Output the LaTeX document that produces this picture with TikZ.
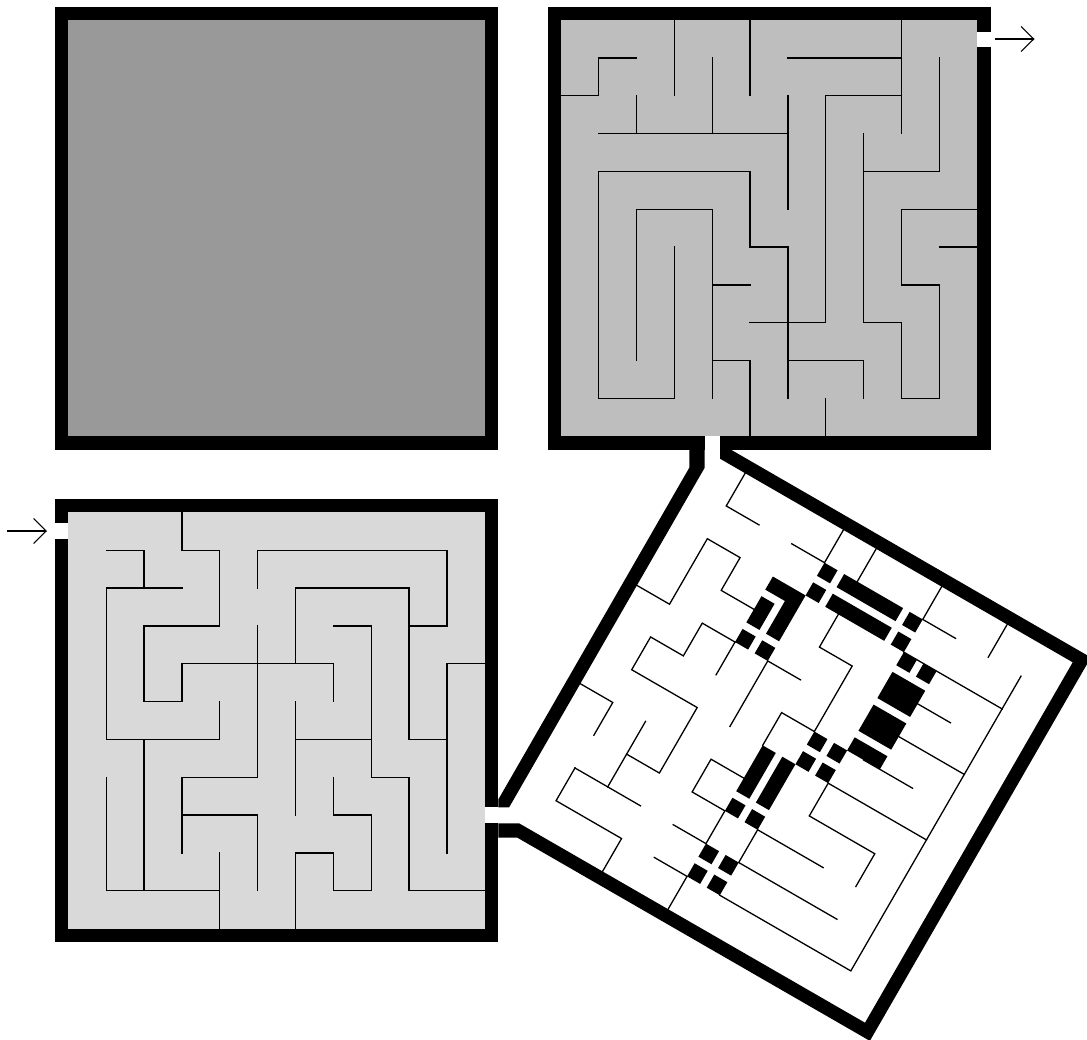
\documentclass[tikz,border=0pt]{standalone}
\usetikzlibrary{arrows.meta}
\definecolor{shadeA}{gray}{0.6}
\definecolor{shadeB}{gray}{0.745}
\definecolor{shadeC}{gray}{0.85}
\tikzset{
  wall/.style={line width=1.3pt,line cap=rect,line join=miter,black},
  tipline/.style={line width=1.1pt,-{Straight Barb[length=12.6pt,width=25pt,line width=1.1pt]}},
  sqcell/.style={x=37.87pt,y=-37.85pt},
  rotcell/.style={x={(32.75pt,-18.91pt)},y={(-18.91pt,-32.75pt)},shift={(712.4pt,-454.3pt)}}
}
\newcommand{\blk}[4]{\fill[black] (#1,#3)--(#2,#3)--(#2,#4)--(#1,#4)--cycle;}
\begin{document}
\begin{tikzpicture}[x=1pt,y=-1pt]
\useasboundingbox (0,0) rectangle (1087,1039);
\clip (0,0) rectangle (1087,1039);
\fill[white] (0,0) rectangle (1087,1039);
% top-left square
\fill[black] (55,6.7) rectangle (498.3,449.7);
\fill[shadeA] (68.3,20) rectangle (485,436.3);
% top-right square
\fill[black] (548,6.7) rectangle (990.7,449.7);
\fill[shadeB] (560.7,20) rectangle (977.3,436.3);
% bottom-left square
\fill[black] (55,499) rectangle (498.3,942);
\fill[shadeC] (68.3,512.3) rectangle (485,928.7);
% tilted square frame
\fill[black] (689.3,449)--(704.5,449)--(704.5,468)--(509.15,807.3)--(498.3,807.3)--(498.3,799.5)--(689.3,467.7)--cycle;
\fill[black] (720,449.7)--(720,458.7)--(1072.7,662.3)--(865,1022.7)--(519.1,823.3)--(498.3,823.3)--(498.3,837.7)--(517.4,837.7)--(869.87,1040.87)--(1090.87,657.43)--(731.5,450)--(731.5,449.7)--cycle;
% openings
\fill[white] (977.3,31.7) rectangle (990.7,46.7);
\fill[white] (705,436.3) rectangle (720,450);
\fill[white] (55,523) rectangle (68.3,538.7);
\fill[white] (485,807.3) rectangle (498.3,823.3);
% arrows
\coordinate (inA) at (7,531);
\coordinate (inB) at (47,531);
\coordinate (outA) at (995,39);
\coordinate (outB) at (1034.5,39);
\draw[tipline] (inA) -- (inB);
\draw[tipline] (outA) -- (outB);
% top-right walls
\begin{scope}[sqcell,shift={(560.7pt,-20pt)}]
\draw[wall] (0,2)--(1,2)--(1,1)--(2,1);
\draw[wall] (3,0)--(3,2);
\draw[wall] (5,0)--(5,2);
\draw[wall] (4,1)--(4,3);
\draw[wall] (2,2)--(2,3);
\draw[wall] (1,3)--(6,3);
\draw[wall] (6,2)--(6,5);
\draw[wall] (6,1)--(9,1);
\draw[wall] (9,0)--(9,3);
\draw[wall] (9,2)--(7,2)--(7,8)--(5,8);
\draw[wall] (10,1)--(10,4)--(8,4);
\draw[wall] (8,3)--(8,8)--(9,8)--(9,10)--(10,10)--(10,7)--(9,7)--(9,5)--(11,5);
\draw[wall] (10,6)--(11,6);
\draw[wall] (1,4)--(5,4)--(5,6)--(6,6)--(6,10);
\draw[wall] (1,4)--(1,10)--(3,10)--(3,6);
\draw[wall] (2,9)--(2,5)--(4,5)--(4,10);
\draw[wall] (4,7)--(5,7);
\draw[wall] (4,9)--(5,9)--(5,11);
\draw[wall] (6,9)--(8,9)--(8,10);
\draw[wall] (7,10)--(7,11);
\end{scope}
% bottom-left walls
\begin{scope}[sqcell,shift={(68.3pt,-512.3pt)}]
\draw[wall] (3,0)--(3,1)--(4,1)--(4,3)--(2,3)--(2,5)--(3,5)--(3,4)--(7,4)--(7,5);
\draw[wall] (1,1)--(2,1)--(2,2);
\draw[wall] (3,2)--(1,2)--(1,6)--(4,6)--(4,5);
\draw[wall] (5,2)--(5,1)--(10,1)--(10,3)--(9,3);
\draw[wall] (6,4)--(6,2)--(9,2)--(9,6)--(10,6);
\draw[wall] (11,4)--(10,4)--(10,9);
\draw[wall] (7,3)--(8,3)--(8,7)--(9,7)--(9,10)--(11,10);
\draw[wall] (5,3)--(5,7)--(3,7)--(3,9);
\draw[wall] (3,8)--(5,8)--(5,10);
\draw[wall] (6,5)--(6,8);
\draw[wall] (6,6)--(8,6);
\draw[wall] (7,7)--(7,8)--(8,8)--(8,10)--(7,10)--(7,9)--(6,9)--(6,11);
\draw[wall] (2,6)--(2,10);
\draw[wall] (1,7)--(1,10)--(4,10);
\draw[wall] (4,9)--(4,11);
\end{scope}
% tilted walls and blocks
\begin{scope}[rotcell]
\draw[wall] (1,0)--(1,1)--(2,1);
\draw[wall] (0,4)--(1,4)--(1,2)--(2,2)--(2,3)--(3,3);
\draw[wall] (3,4)--(2,4)--(2,5)--(1,5)--(1,6)--(3,6)--(3,8)--(2,8);
\draw[wall] (3,4)--(3,5);
\draw[wall] (2,7)--(2,9);
\draw[wall] (0,7)--(1,7)--(1,8);
\draw[wall] (1,9)--(3,9);
\draw[wall] (1,9)--(1,10)--(3,10)--(3,11);
\draw[wall] (5,4)--(4,4)--(4,6);
\draw[wall] (5,6)--(5,5)--(6,5)--(6,3)--(5,3)--(5,2);
\draw[wall] (4,0)--(4,1)--(3,1);
\draw[wall] (5,0)--(5,1);
\draw[wall] (7,0)--(7,1)--(8,1);
\draw[wall] (9,0)--(9,1);
\draw[wall] (10,1)--(10,10)--(6,10);
\draw[wall] (7,2)--(10,2);
\draw[wall] (8,3)--(9,3);
\draw[wall] (8,4)--(10,4);
\draw[wall] (7.5,5)--(9,5);
\draw[wall] (10,6)--(7,6)--(7,7)--(9,7)--(9,8);
\draw[wall] (8,8)--(6,8)--(6,9)--(9,9);
\draw[wall] (5,7)--(4,7)--(4,8)--(5,8)--(5,9)--(4,9);
\draw[wall] (4,10)--(5,10)--(5,11);
\fill[black] (3,2)--(4,2)--(4,3.4)--(3.6,3.4)--(3.6,2.4)--(3,2.4)--cycle;
\blk{3}{3.4}{2.6}{3.4}
\blk{3}{3.4}{3.6}{4}
\blk{3.6}{4}{3.6}{4}
\blk{4}{4.4}{1.6}{2}
\blk{4}{4.4}{1}{1.4}
\blk{4.6}{6.4}{1}{1.4}
\blk{4.6}{6.4}{1.6}{2}
\blk{6.6}{7}{1}{1.4}
\blk{6.6}{7}{1.6}{2}
\blk{7}{7.4}{2}{2.4}
\blk{7.6}{8}{2}{2.4}
\blk{7}{8}{2.6}{3.4}
\blk{7}{8}{3.6}{4.4}
\blk{7}{8}{4.6}{5}
\blk{6}{6.4}{5}{5.4}
\blk{6.6}{7}{5}{5.4}
\blk{6}{6.4}{5.6}{6}
\blk{6.6}{7}{5.6}{6}
\blk{5}{5.4}{6}{7.4}
\blk{5.6}{6}{6}{7.4}
\blk{5}{5.4}{7.6}{8}
\blk{5.6}{6}{7.6}{8}
\blk{5}{5.4}{9}{9.4}
\blk{5.6}{6}{9}{9.4}
\blk{5}{5.4}{9.6}{10}
\blk{5.6}{6}{9.6}{10}
\end{scope}
\end{tikzpicture}
\end{document}
